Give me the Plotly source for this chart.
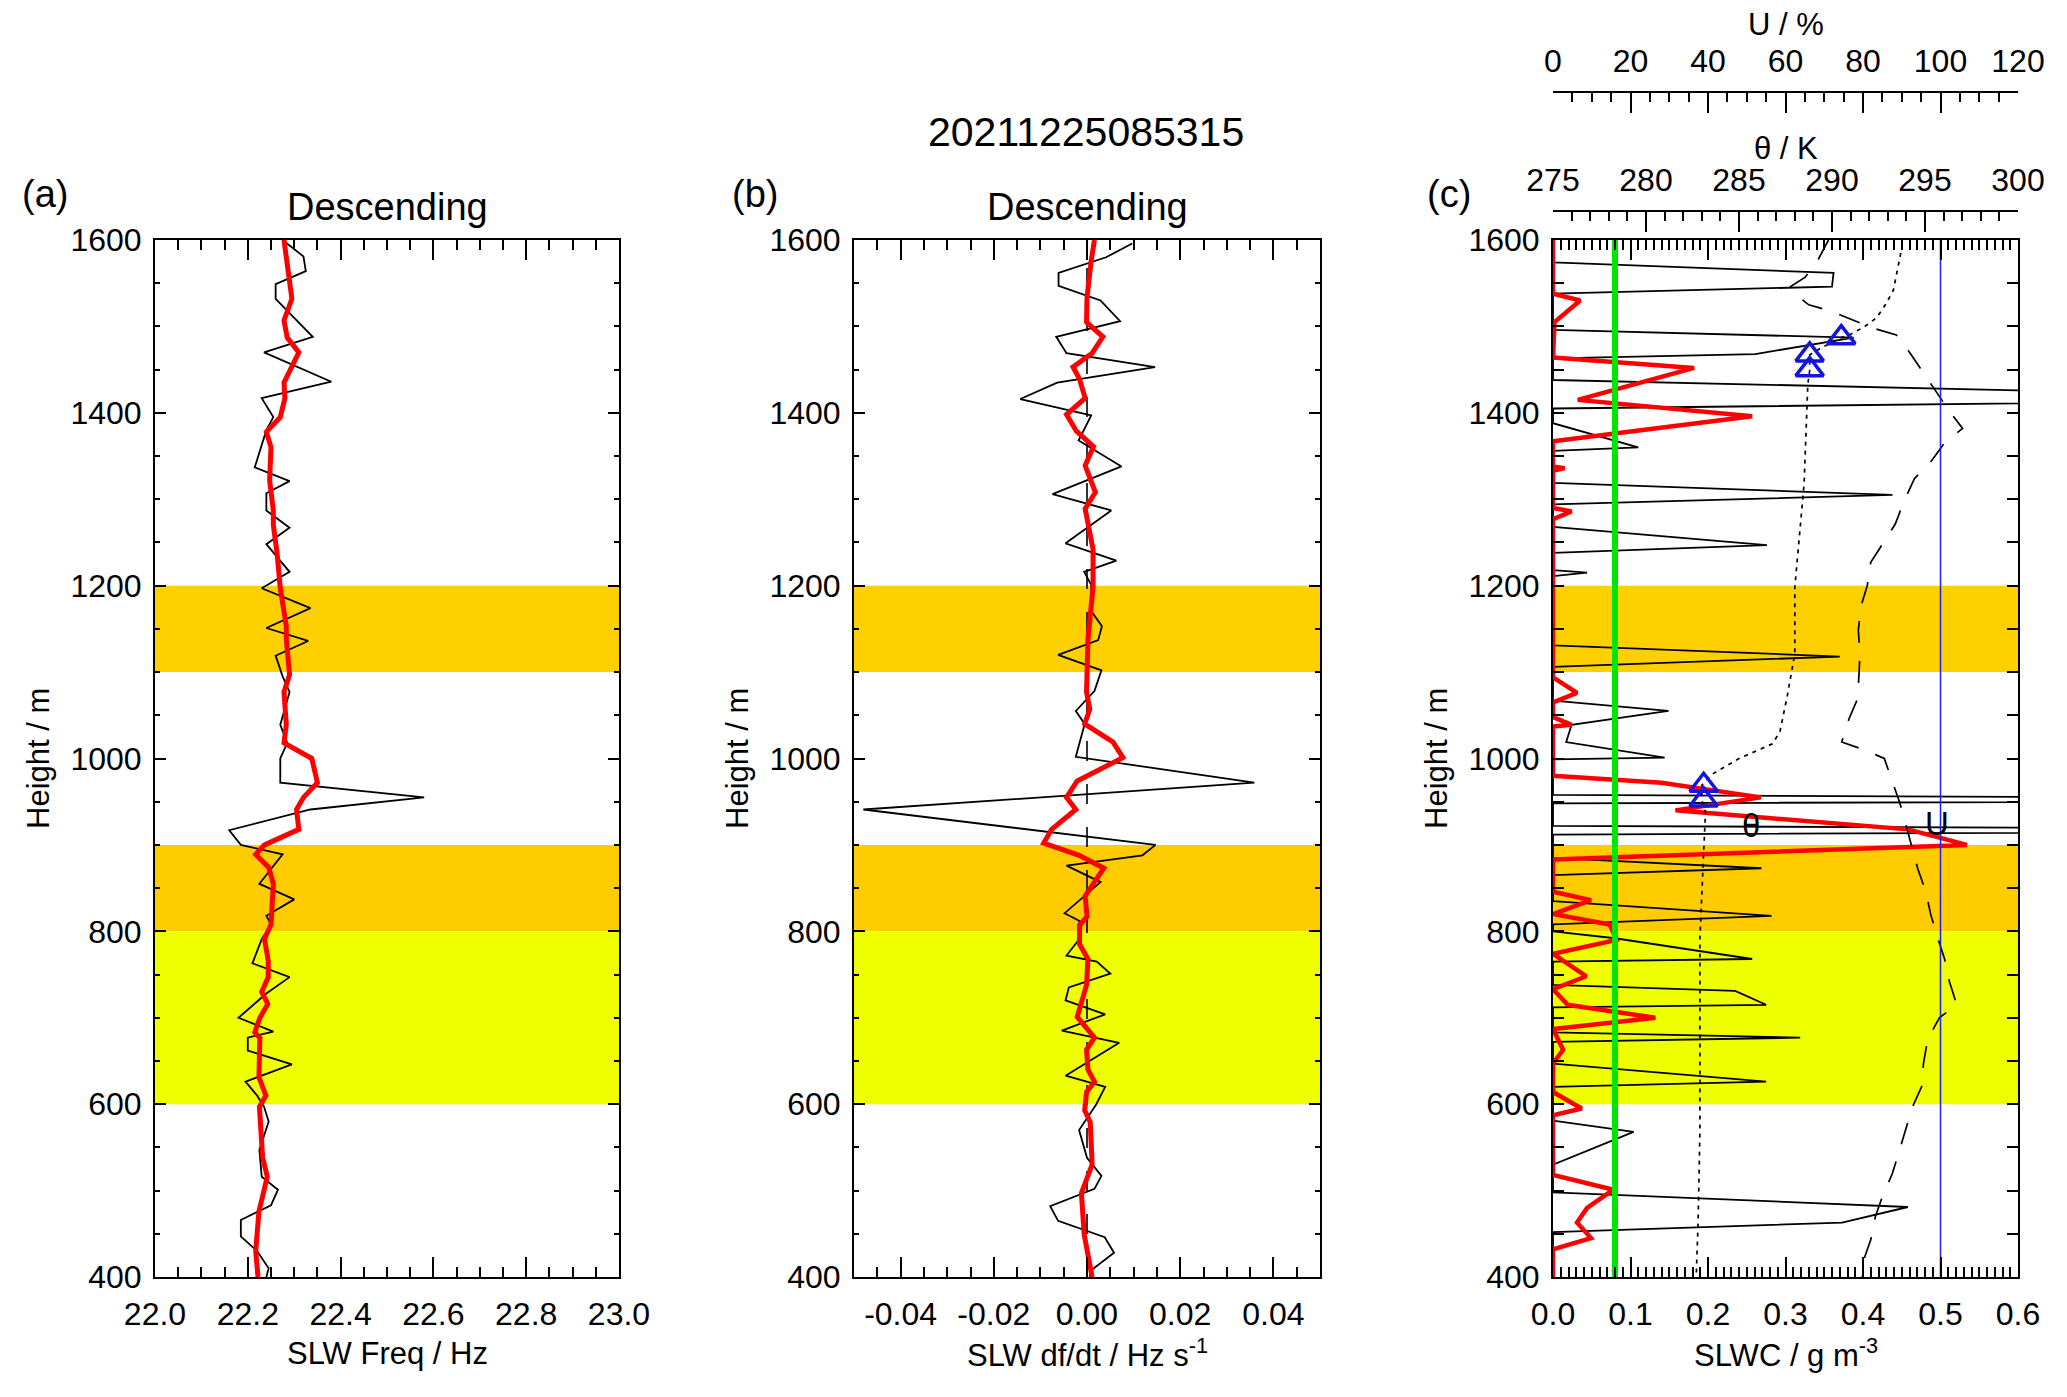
"""
Sounding profile plot: SLW frequency, df/dt and SLWC with theta / U.
"""

import plotly.graph_objects as go

# ---------------------------------------------------------------- data
title_text = "20211225085315"

# panel (a): SLW frequency (Hz) vs height (m)
freq_h = [1600, 1581, 1564, 1549, 1532, 1510, 1488, 1470, 1436, 1417,
          1395, 1380, 1337, 1321, 1307, 1287, 1267, 1248, 1216, 1197,
          1174, 1151, 1136, 1119, 1095, 1077, 1039, 1018, 1000, 972,
          955, 941, 917, 900, 889, 855, 837, 818, 808, 791,
          763, 747, 728, 700, 684, 677, 662, 646, 626, 610,
          597, 580, 547, 516, 501, 483, 466, 447, 430, 410, 400]
freq = [22.275, 22.32, 22.325, 22.26, 22.26, 22.30, 22.34, 22.235, 22.38, 22.23,
        22.255, 22.24, 22.215, 22.29, 22.24, 22.24, 22.29, 22.24, 22.29, 22.23,
        22.335, 22.24, 22.33, 22.26, 22.275, 22.29, 22.27, 22.285, 22.27, 22.27,
        22.58, 22.335, 22.16, 22.185, 22.275, 22.225, 22.30, 22.24, 22.25, 22.23,
        22.21, 22.29, 22.24, 22.18, 22.255, 22.20, 22.20, 22.295, 22.195, 22.22,
        22.235, 22.245, 22.225, 22.23, 22.265, 22.25, 22.185, 22.185, 22.22, 22.245, 22.24]

freq_smooth_h = [1600, 1551, 1532, 1507, 1487, 1470, 1435, 1417, 1395, 1378,
                 1360, 1322, 1287, 1270, 1238, 1197, 1153, 1138, 1097, 1077,
                 1039, 1018, 1000, 972, 955, 941, 918, 900, 889, 874,
                 855, 808, 791, 766, 747, 730, 716, 700, 683, 677,
                 646, 631, 610, 597, 538, 516, 476, 430, 400]
freq_smooth = [22.278, 22.29, 22.295, 22.278, 22.285, 22.31, 22.278, 22.28, 22.27, 22.24,
               22.25, 22.247, 22.255, 22.255, 22.263, 22.27, 22.283, 22.283, 22.29, 22.278,
               22.283, 22.278, 22.338, 22.35, 22.32, 22.305, 22.31, 22.236, 22.217, 22.245,
               22.255, 22.25, 22.236, 22.244, 22.244, 22.23, 22.243, 22.226, 22.215, 22.226,
               22.224, 22.224, 22.239, 22.225, 22.232, 22.242, 22.224, 22.217, 22.222]

# panel (b): SLW df/dt (Hz/s) vs height (m)
dfdt_h = [1596, 1580, 1562, 1547, 1530, 1506, 1488, 1469, 1453, 1435,
          1416, 1397, 1368, 1338, 1306, 1287, 1249, 1229, 1216, 1201,
          1170, 1153, 1137, 1120, 1102, 1078, 1055, 1040, 1002, 972,
          941, 900, 888, 876, 857, 821, 812, 790, 772, 765,
          751, 735, 720, 704, 685, 671, 633, 620, 600, 570,
          538, 517, 502, 482, 465, 446, 428, 407, 400]
dfdt = [0.0097, 0.0041, -0.0061, -0.0061, 0.0029, 0.0071, -0.0066, -0.0044, 0.0146, -0.0064,
        -0.0143, 0.0009, -0.0018, 0.0074, -0.0074, 0.0052, -0.0046, 0.0063, -0.0006, 0.0009,
        0.001, 0.0032, 0.0024, -0.0062, 0.0031, 0.0016, -0.0024, -0.0005, -0.0024, 0.0359,
        -0.048, 0.0147, 0.0119, -0.0044, 0.0029, -0.0048, -0.0016, -0.0018, -0.0044, 0.0021,
        0.005, -0.0039, -0.0046, 0.0039, -0.0054, 0.0069, -0.0046, 0.0039, 0.002, -0.0017,
        0.0, 0.0031, 0.0016, -0.0079, -0.0062, 0.0038, 0.0058, 0.0007, 0.0006]

dfdt_smooth_h = [1600, 1576, 1533, 1505, 1488, 1469, 1453, 1439, 1417, 1398,
                 1379, 1361, 1339, 1308, 1289, 1242, 1199, 1138, 1077, 1057,
                 1040, 1019, 1001, 974, 955, 941, 918, 902, 888, 873,
                 841, 817, 807, 785, 768, 738, 701, 689, 677, 663,
                 640, 626, 614, 593, 579, 530, 497, 449, 407, 400]
dfdt_smooth = [0.0016, 0.0009, 0.0, -0.0001, 0.0034, 0.0011, -0.003, -0.0016, -0.0004, -0.0044,
               -0.0023, 0.0014, -0.0004, 0.0018, -0.0004, 0.0013, 0.0013, 0.0002, -0.0001, 0.0006,
               -0.0005, 0.0056, 0.0077, -0.0021, -0.0044, -0.0024, -0.0076, -0.0093, -0.0017, 0.0036,
               -0.0004, 0.0, -0.0016, -0.0016, 0.0002, -0.0001, -0.0021, -0.0001, 0.0016, -0.0001,
               0.0002, 0.0016, -0.0001, -0.0005, 0.0007, 0.0011, -0.0012, -0.0006, 0.001, 0.0011]

# panel (c): SLWC (g m-3) vs height (m)
slwc_h = [1600, 1574, 1562, 1546, 1538, 1496, 1487, 1468, 1463, 1438,
          1416, 1405, 1388, 1360, 1356, 1319, 1305, 1294, 1268, 1247,
          1238, 1218, 1215, 1211, 1131, 1118, 1106, 1067, 1055, 1039,
          1019, 1001, 999, 958, 952, 948, 922, 917, 912, 885,
          873, 865, 835, 818, 808, 800, 792, 768, 765, 738,
          731, 715, 712, 683, 677, 672, 647, 626, 620, 581,
          568, 530, 498, 481, 463, 452, 400]
slwc = [0, 0, 0.362, 0.36, 0, 0, 0.388, 0.261, 0, 0,
        1.1, 0, 0, 0.11, 0, 0, 0.438, 0, 0, 0.276,
        0, 0, 0.044, 0, 0, 0.37, 0, 0, 0.149, 0.024,
        0.017, 0.144, 0, 0, 1.5, 0, 0, 1.5, 0, 0,
        0.269, 0, 0, 0.282, 0, 0, 0.08, 0.257, 0, 0,
        0.235, 0.275, 0, 0, 0.319, 0, 0, 0.275, 0, 0,
        0.104, 0, 0, 0.458, 0.373, 0, 0]

slwc_smooth_h = [1600, 1538, 1530, 1505, 1464, 1452, 1415, 1396, 1367, 1338,
                 1336, 1333, 1290, 1286, 1277, 1094, 1076, 1065, 1048, 1039,
                 1037, 980, 972, 955, 940, 918, 900, 883, 846, 836,
                 820, 808, 790, 774, 748, 733, 715, 700, 687, 663,
                 647, 614, 595, 587, 518, 501, 480, 463, 445, 432, 400]
slwc_smooth = [0, 0, 0.035, 0.002, 0, 0.182, 0.032, 0.257, 0, 0,
               0.015, 0, 0, 0.024, 0, 0, 0.031, 0, 0, 0.024,
               0, 0, 0.14, 0.268, 0.158, 0.458, 0.534, 0, 0, 0.049,
               0, 0.073, 0.082, 0, 0.043, 0, 0.019, 0.132, 0, 0.013,
               0, 0, 0.037, 0, 0, 0.078, 0.044, 0.031, 0.049, 0, 0]

slwc_threshold = 0.08

# potential temperature (K)
theta_h = [1585, 1563, 1542, 1526, 1510, 1499, 1491, 1487, 1475, 1467,
           1449, 1433, 1380, 1318, 1198, 1121, 1073, 1031, 1017, 1000,
           981, 969, 952, 938, 892, 792, 650, 570, 463, 400]
theta = [293.7, 293.5, 293.3, 292.9, 292.4, 291.7, 291.0, 290.5, 289.4, 288.8,
         288.8, 288.7, 288.6, 288.5, 288.0, 288.0, 287.6, 287.2, 286.8, 285.0,
         283.5, 283.0, 283.0, 283.2, 283.1, 282.9, 282.9, 282.9, 282.8, 282.7]

# flagged theta points (triangles)
flag_h = [1487, 1467, 1450, 969, 952]
flag_theta = [290.5, 288.8, 288.8, 283.1, 283.1]

# relative humidity (%)
rh_h = [1600, 1578, 1557, 1546, 1540, 1525, 1518, 1508, 1498, 1490,
        1470, 1447, 1425, 1403, 1382, 1365, 1344, 1324, 1298, 1271,
        1250, 1227, 1200, 1175, 1148, 1121, 1100, 1069, 1046, 1019,
        1010, 1000, 973, 950, 923, 896, 873, 846, 819, 792,
        769, 742, 715, 700, 675, 647, 621, 597, 570, 540,
        520, 493, 470, 443, 420, 400]
rh = [71.1, 68.5, 65.1, 61.3, 61.7, 66, 71.5, 77.1, 82.6, 88.6,
      92, 95.5, 98.9, 102.1, 105.7, 101, 97.6, 93.3, 90.6, 88.3,
      85.3, 82, 81.1, 79.4, 78.8, 79.2, 79, 78.6, 76.4, 74.5,
      80.3, 85.5, 87.6, 89.4, 91.1, 92.8, 94.1, 96.2, 97.5, 99.3,
      101, 102.3, 104.2, 99.7, 96.7, 95.6, 95.2, 92.8, 91, 89,
      87.6, 85, 83.2, 82, 80.2, 79.8]

rh_saturation = 100

# shaded layers (bottom, top, colour)
layers = [(1100, 1200, "rgb(255,208,0)"),
          (800, 900, "rgb(255,204,0)"),
          (600, 800, "rgb(240,255,0)")]

b_tickvals = [-0.04, -0.02, 0.0, 0.02, 0.04]
b_ticktext = ["-0.04", "-0.02", "0.00", "0.02", "0.04"]

# ---------------------------------------------------------------- layout
W, H = 2067, 1397
FONT = "Liberation Sans, Arial, sans-serif"

def px_x(p):
    return p / W

def px_y(p):
    return 1 - p / H

# panel edges in figure pixels (page adds an 8 px body margin)
panel_x = [(147, 611), (846, 1312), (1545, 2010)]
y_dom = [px_y(1269), px_y(232)]

BLACK = "black"
RED = "rgb(255,0,0)"

fig = go.Figure()

# panel (a)
fig.add_trace(go.Scatter(x=freq, y=freq_h, mode="lines",
                         line=dict(color=BLACK, width=1.8), xaxis="x", yaxis="y"))
fig.add_trace(go.Scatter(x=freq_smooth, y=freq_smooth_h, mode="lines",
                         line=dict(color=RED, width=5), xaxis="x", yaxis="y"))

# panel (b)
fig.add_trace(go.Scatter(x=[0, 0], y=[400, 1600], mode="lines",
                         line=dict(color=BLACK, width=1.6, dash="20px,23px"),
                         xaxis="x2", yaxis="y2"))
fig.add_trace(go.Scatter(x=dfdt, y=dfdt_h, mode="lines",
                         line=dict(color=BLACK, width=1.8), xaxis="x2", yaxis="y2"))
fig.add_trace(go.Scatter(x=dfdt_smooth, y=dfdt_smooth_h, mode="lines",
                         line=dict(color=RED, width=5), xaxis="x2", yaxis="y2"))

# panel (c)
fig.add_trace(go.Scatter(x=slwc, y=slwc_h, mode="lines",
                         line=dict(color=BLACK, width=1.8), xaxis="x3", yaxis="y3"))
fig.add_trace(go.Scatter(x=slwc_smooth, y=slwc_smooth_h, mode="lines",
                         line=dict(color=RED, width=4.5), xaxis="x3", yaxis="y3"))
fig.add_trace(go.Scatter(x=[slwc_threshold, slwc_threshold], y=[400, 1600], mode="lines",
                         line=dict(color="rgb(0,230,0)", width=6), xaxis="x3", yaxis="y3"))
fig.add_trace(go.Scatter(x=theta, y=theta_h, mode="lines",
                         line=dict(color=BLACK, width=1.7, dash="4px,5px"),
                         xaxis="x4", yaxis="y3"))
fig.add_trace(go.Scatter(x=flag_theta, y=flag_h, mode="markers",
                         marker=dict(symbol="triangle-up-open", size=24,
                                     color="rgb(20,20,220)",
                                     line=dict(width=3.5, color="rgb(20,20,220)")),
                         xaxis="x4", yaxis="y3"))
fig.add_trace(go.Scatter(x=rh, y=rh_h, mode="lines",
                         line=dict(color=BLACK, width=1.7, dash="22px,18px"),
                         xaxis="x5", yaxis="y3"))
fig.add_trace(go.Scatter(x=[rh_saturation, rh_saturation], y=[400, 1600], mode="lines",
                         line=dict(color="rgb(30,30,255)", width=1.5),
                         xaxis="x5", yaxis="y3"))

tick_font = dict(family=FONT, size=32, color=BLACK)

def x_axis(dom, rng, dtick, minor, fmt, anchor):
    return dict(domain=dom, range=rng, dtick=dtick, tickformat=fmt,
                ticks="inside", ticklen=20, tickwidth=1.5, tickcolor=BLACK,
                minor=dict(dtick=minor, ticks="inside", ticklen=10,
                           tickwidth=1.5, tickcolor=BLACK),
                showline=True, linecolor=BLACK, linewidth=2, mirror="allticks",
                showgrid=False, zeroline=False, anchor=anchor, automargin=False,
                tickfont=tick_font, ticklabelstandoff=8)

def y_axis(anchor):
    return dict(domain=y_dom, range=[400, 1600], dtick=200,
                ticks="inside", ticklen=11, tickwidth=1.5, tickcolor=BLACK,
                minor=dict(dtick=50, ticks="inside", ticklen=5,
                           tickwidth=1.5, tickcolor=BLACK),
                showline=True, linecolor=BLACK, linewidth=2, mirror="allticks",
                showgrid=False, zeroline=False, anchor=anchor, automargin=False,
                tickfont=tick_font, ticklabelstandoff=5)

doms = [[px_x(a), px_x(b)] for a, b in panel_x]

xa = x_axis(doms[0], [22.0, 23.0], 0.2, 0.05, ".1f", "y")
xb = x_axis(doms[1], [-0.05, 0.05], 0.02, 0.005, ".2f", "y2")
xb.update(tickmode="array", tickvals=b_tickvals, ticktext=b_ticktext)
xc = x_axis(doms[2], [0.0, 0.6], 0.1, 0.01, ".1f", "y3")

def top_axis(rng, dtick, minor, pos):
    return dict(overlaying="x3", side="top", anchor="free", position=pos,
                range=rng, dtick=dtick, ticks="inside", ticklen=20,
                tickwidth=1.5, tickcolor=BLACK,
                minor=dict(dtick=minor, ticks="inside", ticklen=9,
                           tickwidth=1.5, tickcolor=BLACK),
                showline=True, linecolor=BLACK, linewidth=2,
                showgrid=False, zeroline=False, automargin=False,
                tickfont=tick_font, ticklabelstandoff=6)

fig.update_layout(
    width=W, height=H,
    margin=dict(l=0, r=0, t=0, b=0, autoexpand=False),
    paper_bgcolor="white", plot_bgcolor="white",
    showlegend=False,
    font=dict(family=FONT, color=BLACK),
    xaxis=xa, yaxis=y_axis("x"),
    xaxis2=xb, yaxis2=y_axis("x2"),
    xaxis3=xc, yaxis3=y_axis("x3"),
    xaxis4=top_axis([275, 300], 5, 1, px_y(203)),
    xaxis5=top_axis([0, 120], 20, 5, px_y(84)),
)

# shaded layers in every panel
for xref in ["x", "x2", "x3"]:
    yref = "y" if xref == "x" else "y" + xref[1:]
    for y0, y1, col in layers:
        fig.add_shape(type="rect", xref=xref + " domain", yref=yref,
                      x0=0, x1=1, y0=y0, y1=y1, fillcolor=col,
                      line=dict(width=0), layer="below")

# text
def label(text, x, y, size, **kw):
    fig.add_annotation(text=text, x=x, y=y, xref="paper", yref="paper",
                       showarrow=False, font=dict(family=FONT, size=size, color=BLACK),
                       xanchor="center", yanchor="middle", **kw)

label(title_text, px_x(1078), px_y(124), 41)
for name, xc_ in zip(["(a)", "(b)", "(c)"], [37, 747, 1441]):
    label(name, px_x(xc_), px_y(186), 38)
for a, b in panel_x[:2]:
    label("Descending", px_x((a + b) / 2), px_y(199), 38)
for (a, b), t in zip(panel_x, ["SLW Freq / Hz", "SLW df/dt / Hz s<sup>-1</sup>",
                              "SLWC / g m<sup>-3</sup>"]):
    label(t, px_x((a + b) / 2), px_y(1345), 31)
    label("Height / m", px_x(a - 117), px_y(751), 31, textangle=-90)
cx = (panel_x[2][0] + panel_x[2][1]) / 2
label("θ / K", px_x(cx), px_y(141), 31)
label("U / %", px_x(cx), px_y(17), 31)

fig.add_annotation(text="θ", x=0.255, y=922, xref="x3", yref="y3", showarrow=False,
                   font=dict(family=FONT, size=33, color=BLACK))
fig.add_annotation(text="U", x=0.496, y=925, xref="x3", yref="y3", showarrow=False,
                   font=dict(family=FONT, size=33, color=BLACK))

fig.write_html("out.html")
